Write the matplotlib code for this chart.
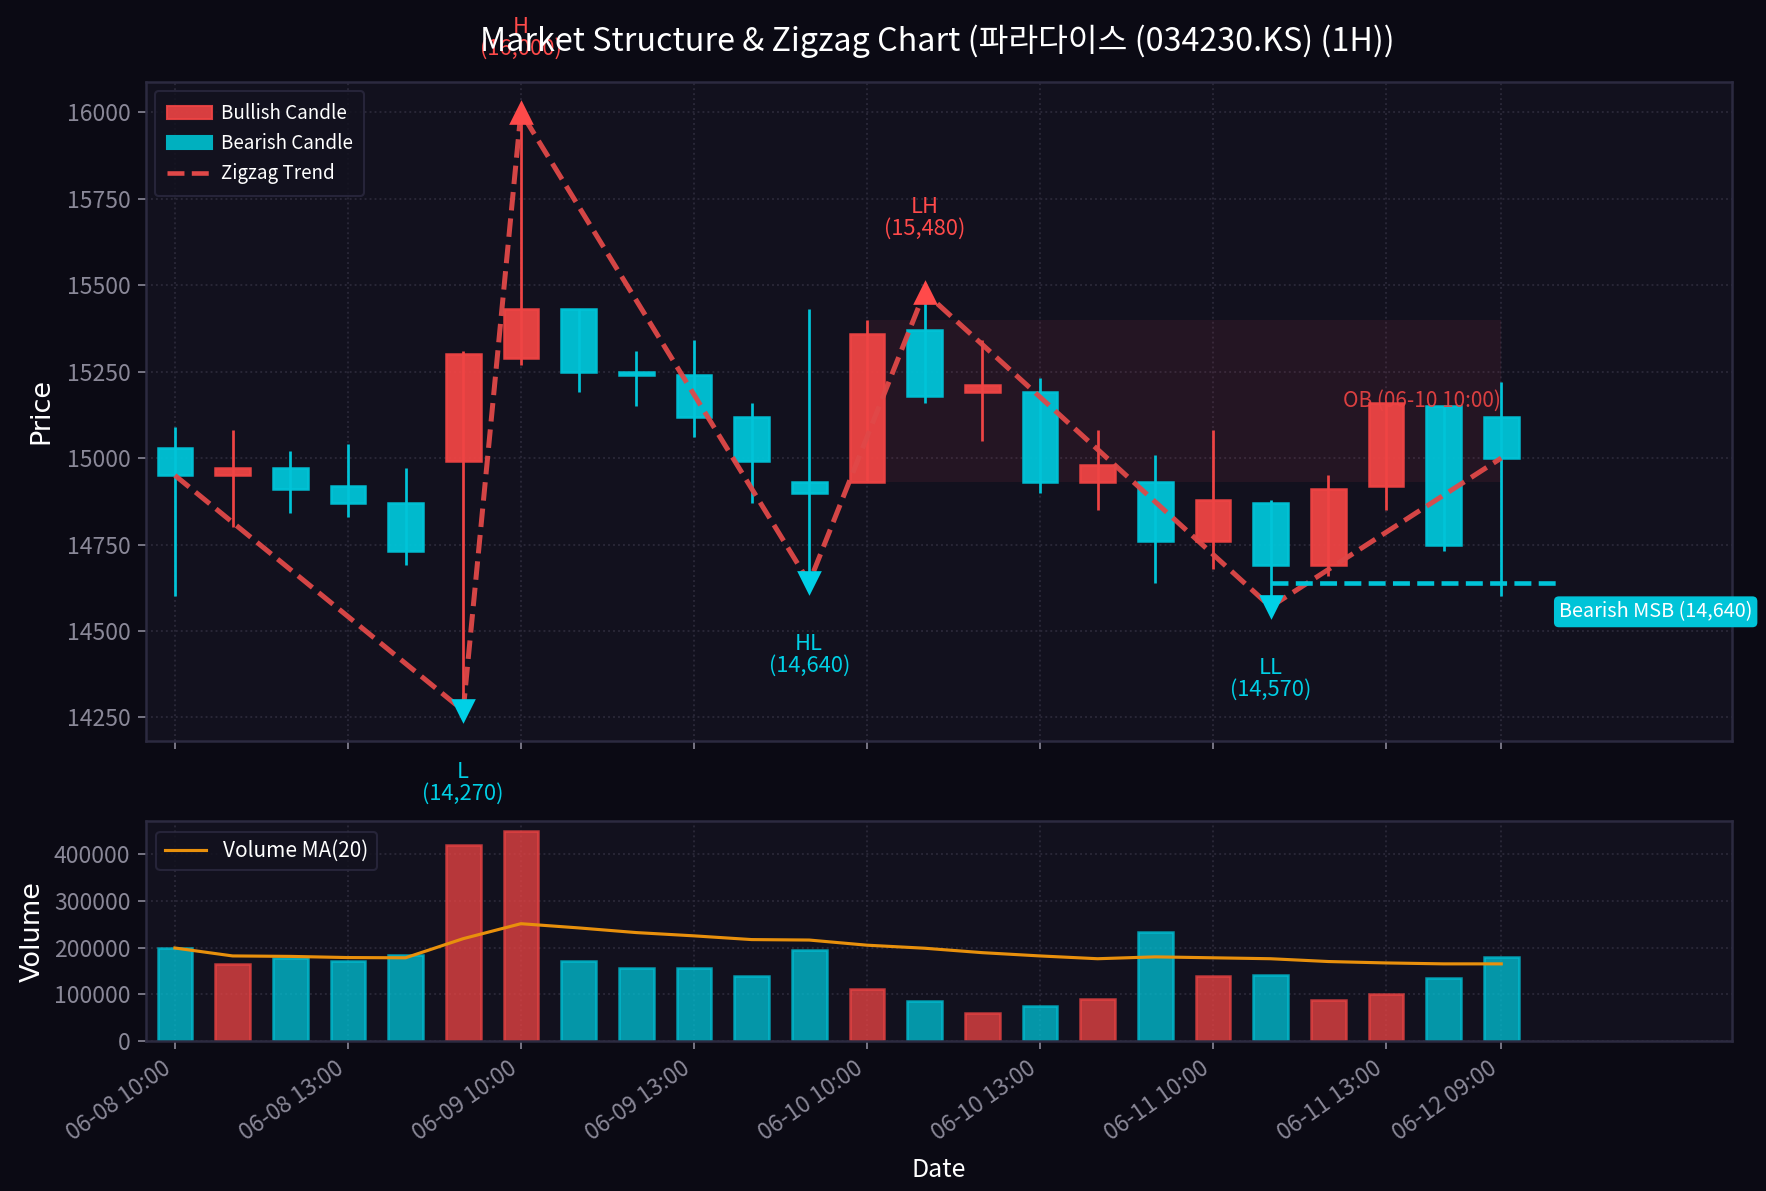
import numpy as np
import matplotlib.pyplot as plt
from matplotlib.patches import Patch, Rectangle
from matplotlib.lines import Line2D

plt.rcParams['font.family'] = ['Noto Sans CJK KR', 'DejaVu Sans']

# --- data ---
labels = ["06-08 10:00", "06-08 11:00", "06-08 12:00", "06-08 13:00", "06-08 14:00", "06-08 15:00",
          "06-09 10:00", "06-09 11:00", "06-09 12:00", "06-09 13:00", "06-09 14:00", "06-09 15:00",
          "06-10 10:00", "06-10 11:00", "06-10 12:00", "06-10 13:00", "06-10 14:00", "06-10 15:00",
          "06-11 10:00", "06-11 11:00", "06-11 12:00", "06-11 13:00", "06-11 14:00", "06-12 09:00"]
opens = [15030, 14950, 14970, 14920, 14870, 14990, 15290, 15430, 15250, 15240, 15120, 14930,
         14930, 15370, 15190, 15190, 14930, 14930, 14760, 14870, 14690, 14920, 15150, 15120]
highs = [15090, 15080, 15020, 15040, 14970, 15310, 16000, 15430, 15310, 15340, 15160, 15430,
         15400, 15480, 15340, 15230, 15080, 15010, 15080, 14880, 14950, 15160, 15150, 15220]
lows = [14600, 14800, 14840, 14830, 14690, 14270, 15270, 15190, 15150, 15060, 14870, 14640,
        14930, 15160, 15050, 14900, 14850, 14640, 14680, 14570, 14660, 14850, 14730, 14600]
closes = [14950, 14970, 14910, 14870, 14730, 15300, 15430, 15250, 15240, 15120, 14990, 14900,
          15360, 15180, 15210, 14930, 14980, 14760, 14880, 14690, 14910, 15160, 14750, 15000]
volumes = [199000, 165500, 178500, 172000, 183500, 420500, 448500, 172000, 156500, 156500, 139500, 195000,
           112000, 86500, 60500, 75500, 90500, 234000, 140000, 142000, 88500, 101500, 135000, 180500]
vol_ma = [199000, 182000, 181000, 178500, 178000, 219000, 251000, 242000, 232000, 225000, 217000, 216000,
          205000, 198500, 189000, 182000, 176000, 180000, 178000, 176000, 170000, 167000, 165000, 165000]

zz_idx = [0, 5, 6, 11, 13, 19, 23]
zz_price = [14950, 14270, 16000, 14640, 15480, 14570, 15000]

pivot_idx = [5, 6, 11, 13, 19]
pivot_price = [14270, 16000, 14640, 15480, 14570]
pivot_name = ["L", "H", "HL", "LH", "LL"]
pivot_high = [False, True, False, True, False]

ob_start, ob_end = 12, 23
ob_low, ob_high = 14930, 15400
msb_start, msb_end, msb_price = 19, 24, 14640
tick_pos = [0, 3, 6, 9, 12, 15, 18, 21, 23]

# --- colours ---
BG = '#0b0a14'
AX_BG = '#12111e'
BULL = '#ef4444'
BEAR = '#00c4d8'
GRID = '#2a2838'
SPINE = '#2c2a40'
TICK = '#8a8898'

fig = plt.figure(figsize=(1766 / 150, 1191 / 150), dpi=150, facecolor=BG)
gs = fig.add_gridspec(2, 1, height_ratios=[3, 1], hspace=0.184,
                      left=0.0827, right=0.9807, top=0.9311, bottom=0.126)
ax = fig.add_subplot(gs[0])
axv = fig.add_subplot(gs[1], sharex=ax)

for a in (ax, axv):
    a.set_facecolor(AX_BG)
    for s in a.spines.values():
        s.set_color(SPINE)
        s.set_linewidth(1.2)
    a.tick_params(colors=TICK, labelsize=11, length=4)
    a.grid(True, color=GRID, linestyle=':', linewidth=0.9)
    a.set_axisbelow(True)

x = np.arange(len(opens))
w = 0.6
for i in x:
    o, h, l, c = opens[i], highs[i], lows[i], closes[i]
    col = BULL if c >= o else BEAR
    ax.vlines(i, l, h, color=col, linewidth=1.3, zorder=2)
    ax.add_patch(Rectangle((i - w / 2, min(o, c)), w, abs(c - o), facecolor=col,
                           edgecolor=col, alpha=0.95, linewidth=1.2, zorder=3))

# order block zone
ax.add_patch(Rectangle((ob_start, ob_low), ob_end - ob_start, ob_high - ob_low,
                       facecolor='#e0405a', alpha=0.09, edgecolor='none', zorder=1))
ax.text(ob_end, (ob_low + ob_high) / 2, "OB (06-10 10:00)", color=BULL, fontsize=10,
        ha='right', va='center', alpha=0.9, zorder=5)

# zigzag
ax.plot(zz_idx, zz_price, color='#e04848', linestyle='--', linewidth=2.4, alpha=0.95, zorder=4)

for i, p, n, hi in zip(pivot_idx, pivot_price, pivot_name, pivot_high):
    col = '#ff4a4a' if hi else '#00d0e6'
    ax.scatter(i, p, marker='^' if hi else 'v', s=140, color=col, zorder=6, linewidths=0)
    ax.annotate(f"{n}\n({p:,})", (i, p), xytext=(0, 25 if hi else -24), textcoords='offset points',
                ha='center', va='bottom' if hi else 'top', color=col, fontsize=10.5,
                linespacing=1.0, annotation_clip=False, zorder=6)

# bearish MSB
ax.hlines(msb_price, msb_start, msb_end, color=BEAR, linestyle='--', linewidth=2.2, zorder=5)
ax.annotate(f"Bearish MSB ({msb_price:,})", (msb_end, msb_price), xytext=(0, -9),
            textcoords='offset points', ha='left', va='top', color='white', fontsize=9.5,
            annotation_clip=False, zorder=7,
            bbox=dict(boxstyle='round,pad=0.25', facecolor=BEAR, edgecolor='none'))

ax.set_xlim(-0.5, 27)
ax.set_ylim(14183, 16087)
ax.set_ylabel("Price", color='white', fontsize=13, family='DejaVu Sans', labelpad=6)
plt.setp(ax.get_xticklabels(), visible=False)

ax.legend(handles=[Patch(facecolor=BULL, edgecolor=BULL, alpha=0.9, label='Bullish Candle'),
                   Patch(facecolor='#00b0bf', edgecolor='#00b0bf', label='Bearish Candle'),
                   Line2D([0], [0], color='#e04848', linestyle='--', linewidth=2.2, label='Zigzag Trend')],
          loc='upper left', facecolor=AX_BG, edgecolor=SPINE, labelcolor='white', fontsize=9,
          handlelength=2.4, borderpad=0.6, labelspacing=0.5, handletextpad=0.5)

# volume
vcols = [BULL if c >= o else BEAR for o, c in zip(opens, closes)]
axv.bar(x, volumes, width=0.6, color=vcols, alpha=0.75, edgecolor=vcols, linewidth=1.2)
axv.plot(x, vol_ma, color='#e8900c', linewidth=1.5, label='Volume MA(20)')
axv.set_ylim(0, 470000)
axv.set_yticks([0, 100000, 200000, 300000, 400000])
axv.set_ylabel("Volume", color='white', fontsize=13, family='DejaVu Sans', labelpad=4)
axv.set_xlabel("Date", color='white', fontsize=12, labelpad=6)
axv.set_xticks(tick_pos)
axv.set_xticklabels([labels[i] for i in tick_pos], rotation=35, ha='right')
axv.legend(loc='upper left', facecolor=AX_BG, edgecolor=SPINE, labelcolor='white', fontsize=10)

fig.suptitle("Market Structure & Zigzag Chart (파라다이스 (034230.KS) (1H))",
             color='white', fontsize=15.5, x=0.531, y=0.979)

fig.savefig("out.png", dpi=150, facecolor=BG)
